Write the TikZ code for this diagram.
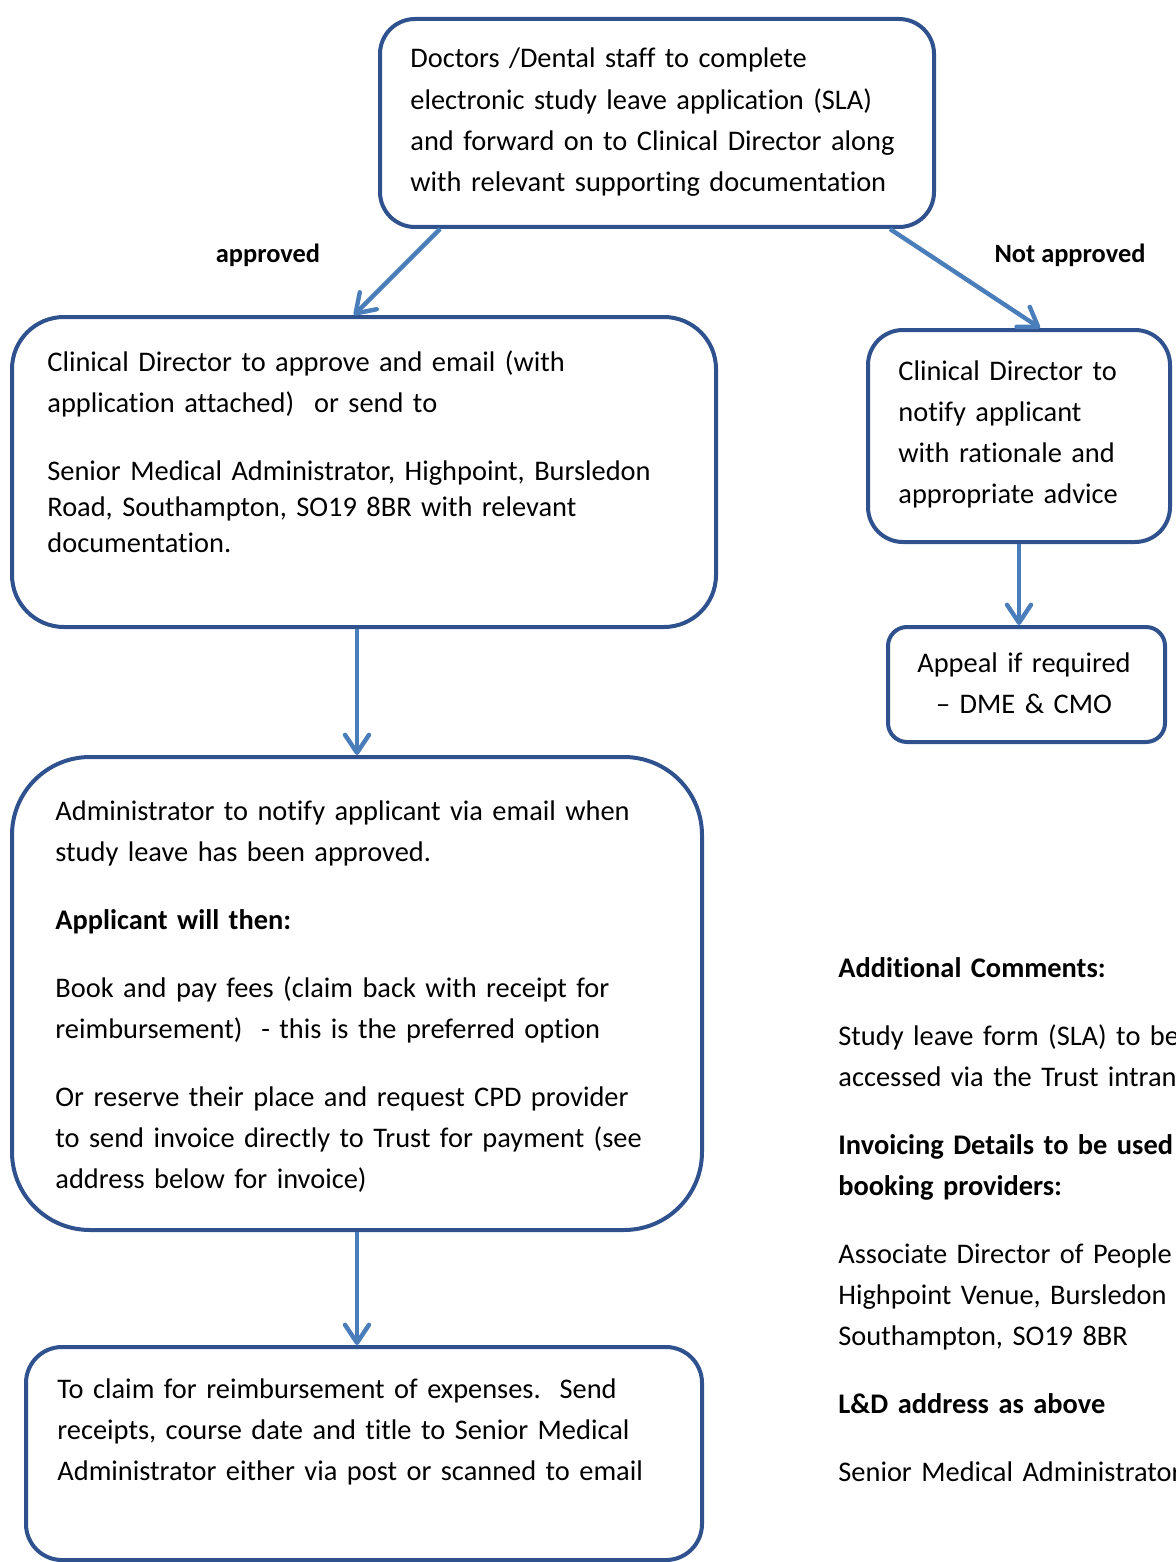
\documentclass[tikz,border=0pt]{standalone}
\usepackage{fontspec}
\setmainfont[Ligatures=NoCommon]{Carlito}
\usetikzlibrary{arrows.meta}
\definecolor{boxblue}{HTML}{2F528F}
\definecolor{arrowblue}{HTML}{4A7EBB}
\tikzset{
  stage/.style={draw=boxblue, line width=2pt, rectangle, anchor=north west, inner sep=0pt},
  txt/.style={anchor=base west, inner sep=0pt, text width=330pt, align=left, font=\fontsize{14.2}{20.6}\selectfont},
  flow/.style={draw=arrowblue, line width=2.2pt, -{Straight Barb[length=9pt,width=12pt,round]}},
  decision/.style={font=\fontsize{13.2}{16}\selectfont\bfseries, inner sep=0pt, anchor=base}
}
\begin{document}
\begin{tikzpicture}[x=0.5pt, y=-0.5pt]
\useasboundingbox (0,0) rectangle (1176,1562);

% boxes
\node[stage, minimum width=277pt, minimum height=104pt, rounded corners=17.5pt] (apply) at (378,17) {};
\node[stage, minimum width=352pt, minimum height=155pt, rounded corners=26pt] (approve) at (10,315) {};
\node[stage, minimum width=151pt, minimum height=106pt, rounded corners=17.5pt] (reject) at (866,328) {};
\node[stage, minimum width=138.5pt, minimum height=57.5pt, rounded corners=9.5pt] (appeal) at (886,625) {};
\node[stage, minimum width=345pt, minimum height=236.5pt, rounded corners=39pt] (notify) at (10,755) {};
\node[stage, minimum width=338pt, minimum height=106.5pt, rounded corners=18pt] (claim) at (24,1345) {};

% box texts
\node[txt] (applytxt) at (410,68) {Doctors /Dental staff to complete\\electronic study leave application (SLA)\\and forward on to Clinical Director along\\with relevant supporting documentation};
\node[txt] (approvetxt) at (47,371) {Clinical Director to approve and email (with\\application attached)\hspace{10pt}or send to};
\node[txt, font=\fontsize{14.2}{18}\selectfont] (addresstxt) at (47,480) {Senior Medical Administrator, Highpoint, Bursledon\\Road, Southampton, SO19 8BR with relevant\\documentation.};
\node[txt] (rejecttxt) at (898,380) {Clinical Director to\\notify applicant\\with rationale and\\appropriate advice};
\node[txt, anchor=base, align=center, text width=130pt] (appealtxt) at (1024,672) {Appeal if required\\– DME \& CMO};
\node[txt] (notifytxt) at (55,820) {Administrator to notify applicant via email when\\study leave has been approved.\par\vspace{13.4pt}
  \textbf{Applicant will then:}\par\vspace{13.4pt}
  Book and pay fees (claim back with receipt for\\reimbursement)\ \ - this is the preferred option\par\vspace{13.4pt}
  Or reserve their place and request CPD provider\\to send invoice directly to Trust for payment (see\\address below for invoice)};
\node[txt] (claimtxt) at (57,1398) {To claim for reimbursement of expenses.\ \ Send\\receipts, course date and title to Senior Medical\\Administrator either via post or scanned to email};

% decisions
\node[decision] (yes) at (268,263) {approved};
\node[decision] (no) at (1070,263) {Not approved};

% side notes, cut at the page edge
\begin{scope}
\clip (0,0) rectangle (1176,1562);
\node[txt] (notes) at (838,977) {\textbf{Additional Comments:}\par\vspace{13.4pt}
  Study leave form (SLA) to be\\accessed via the Trust intranet\par\vspace{13.4pt}
  \textbf{Invoicing Details to be used when\\booking providers:}\par\vspace{13.4pt}
  Associate Director of People\\Highpoint Venue, Bursledon\\Southampton, SO19 8BR\par\vspace{13.4pt}
  \textbf{L\&D address as above}\par\vspace{13.4pt}
  Senior Medical Administrator};
\end{scope}

% connectors
\draw[flow] ([xshift=31pt]apply.south west) -- ([xshift=-5pt]approve.north);
\draw[flow] ([xshift=-23pt]apply.south east) -- ([xshift=10.5pt]reject.north);
\draw[flow] (reject.south) -- (reject.south |- appeal.north);
\draw[flow] (notify.north |- approve.south) -- (notify.north);
\draw[flow] (notify.south) -- (notify.south |- claim.north);
\end{tikzpicture}
\end{document}
